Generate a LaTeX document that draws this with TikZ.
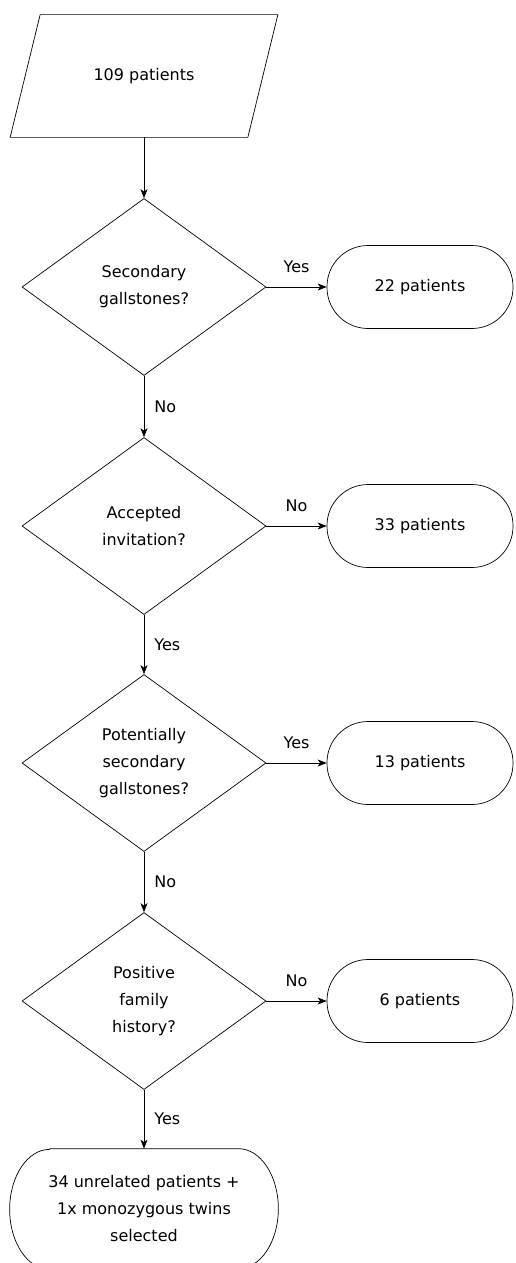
\documentclass[tikz,border=0pt]{standalone}
\usepackage{fontspec}
\setmainfont{DejaVu Sans}
\usetikzlibrary{shapes.geometric,arrows.meta}

\tikzset{
  decision/.style={draw, diamond, minimum width=244pt, minimum height=177pt, inner sep=0pt, align=center},
  outcome/.style={draw, rounded corners=41pt, minimum width=186pt, minimum height=83pt, align=center},
  answer/.style={inner sep=0pt},
  flow/.style={-{Stealth[length=9pt,width=7pt,inset=2.5pt]}}
}

\begin{document}
\begin{tikzpicture}[x=1pt,y=-1pt,font=\fontsize{16}{27}\selectfont,line width=0.7pt]
  \useasboundingbox (0,0) rectangle (515,1263);

  %input (parallelogram)
  \node[minimum width=237pt, minimum height=122pt] (start) at (144,76) {109 patients};
  \draw ([xshift=15pt]start.north west) -- ([xshift=15pt]start.north east)
     -- ([xshift=-15pt]start.south east) -- ([xshift=-15pt]start.south west) -- cycle;

  %questions
  \node[decision] (d1) at (144,287) {Secondary\\gallstones?};
  \node[decision] (d2) at (144,526) {Accepted\\invitation?};
  \node[decision] (d3) at (144,763) {Potentially\\secondary\\gallstones?};
  \node[decision] (d4) at (144,1001) {Positive\\family\\history?};

  %excluded groups
  \node[outcome] (r1) at (420,287) {22 patients};
  \node[outcome] (r2) at (420,526) {33 patients};
  \node[outcome] (r3) at (420,763) {13 patients};
  \node[outcome] (r4) at (420,1001) {6 patients};

  %selected (elliptic ends)
  \node[minimum width=268pt, minimum height=120pt, align=center] (sel) at (144,1209)
    {34 unrelated patients +\\1x monozygous twins\\selected};
  \draw ([xshift=40pt]sel.north west) -- ([xshift=-40pt]sel.north east)
     arc[start angle=90, end angle=-90, x radius=40pt, y radius=60pt]
     -- ([xshift=40pt]sel.south west)
     arc[start angle=270, end angle=90, x radius=40pt, y radius=60pt] -- cycle;

  %main line
  \draw[flow] (start.south) -- (d1.north);
  \draw[flow] (d1.south) -- node[answer, right=10pt] {No} (d2.north);
  \draw[flow] (d2.south) -- node[answer, right=10pt] {Yes} (d3.north);
  \draw[flow] (d3.south) -- node[answer, right=10pt] {No} (d4.north);
  \draw[flow] (d4.south) -- node[answer, right=10pt] {Yes} (sel.north);

  %side branches
  \draw[flow] (d1.east) -- node[answer, above=14pt] {Yes} (r1.west);
  \draw[flow] (d2.east) -- node[answer, above=14pt] {No} (r2.west);
  \draw[flow] (d3.east) -- node[answer, above=14pt] {Yes} (r3.west);
  \draw[flow] (d4.east) -- node[answer, above=14pt] {No} (r4.west);
\end{tikzpicture}
\end{document}
